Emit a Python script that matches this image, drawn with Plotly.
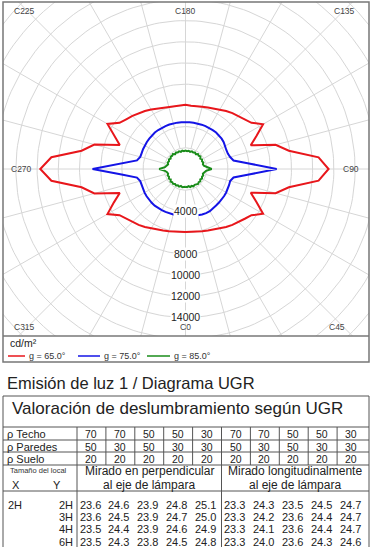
import numpy as np
import plotly.graph_objects as go

# ---------------- data ----------------
C_ANGLES = list(range(0, 360, 5))

# luminance (cd/m2) at gamma = 65, 75, 85 deg, C = 0..355 step 5
L_G65 = [5950, 5960, 6000, 6080, 6180, 6300, 6480, 6680, 6880, 7080, 7300, 7600, 8450, 7400, 6550, 8800, 9900, 12600,
         13500, 12600, 9900, 8800, 6550, 7400, 8450, 7600, 7300, 7080, 6880, 6680, 6480, 6300, 6180, 6080, 6000, 5980,
         6050, 6000, 6020, 6080, 6180, 6300, 6480, 6680, 6880, 7080, 7300, 7600, 8500, 7450, 6600, 8900, 9950, 12700,
         13700, 12700, 9950, 8900, 6600, 7450, 8500, 7600, 7300, 7080, 6880, 6680, 6480, 6300, 6180, 6080, 6000, 5960]
L_G75 = [4430, 4440, 4470, 4520, 4570, 4600, 4590, 4540, 4490, 4470, 4460, 4450, 4430, 4400, 4380, 4360, 4600, 6000,
         8600, 6000, 4600, 4360, 4250, 4250, 4330, 4400, 4450, 4480, 4490, 4480, 4470, 4460, 4450, 4440, 4430, 4430,
         4430, 4430, 4440, 4450, 4460, 4470, 4480, 4490, 4500, 4480, 4460, 4450, 4430, 4420, 4400, 4420, 4650, 6050,
         8770, 6050, 4650, 4420, 4420, 4440, 4460, 4480, 4500, 4510, 4520, 4500, 4480, 4470, 4460, 4450, 4440, 4430]
L_G85 = [1670, 1720, 1650, 1760, 1700, 1800, 1720, 1780, 1850, 1760, 1820, 1700, 1800, 1720, 1780, 1700, 1780, 1950,
         2470, 1950, 1760, 1700, 1790, 1720, 1800, 1700, 1840, 1760, 1830, 1700, 1790, 1720, 1770, 1680, 1750, 1690,
         1730, 1690, 1760, 1680, 1780, 1720, 1800, 1700, 1850, 1770, 1820, 1710, 1800, 1720, 1790, 1700, 1780, 1950,
         2480, 1950, 1770, 1700, 1790, 1720, 1810, 1700, 1840, 1760, 1830, 1720, 1790, 1700, 1770, 1660, 1740, 1680]
SERIES_NAMES = ["g = 65.0°", "g = 75.0°", "g = 85.0°"]
SERIES_COLORS = ["#e8161b", "#1414e6", "#1a8c1a"]

RADIAL_TICK_LABELS = [4000, 8000, 10000, 12000, 14000]
GRID_STEP = 2000
C_LABELS = ["C225", "C180", "C135", "C270", "C90", "C315", "C0", "C45"]

# UGR table
ROW_LABELS = ["ρ Techo", "ρ Paredes", "ρ Suelo"]
RHO_CEILING = [70, 70, 50, 50, 30, 70, 70, 50, 50, 30]
RHO_WALLS = [50, 30, 50, 30, 30, 50, 30, 50, 30, 30]
RHO_FLOOR = [20, 20, 20, 20, 20, 20, 20, 20, 20, 20]
ROOM_X = ["2H", "", "", ""]
ROOM_Y = ["2H", "3H", "4H", "6H"]
UGR_PERP = [[23.6, 24.6, 23.9, 24.8, 25.1],
            [23.6, 24.5, 23.9, 24.7, 25.0],
            [23.5, 24.4, 23.9, 24.6, 24.9],
            [23.5, 24.3, 23.8, 24.5, 24.8]]
UGR_LONG = [[23.3, 24.3, 23.5, 24.5, 24.7],
            [23.3, 24.2, 23.6, 24.4, 24.7],
            [23.3, 24.1, 23.6, 24.4, 24.7],
            [23.3, 24.0, 23.6, 24.3, 24.6]]

# ---------------- layout helpers ----------------
W, H = 372, 547
FONT = "Arial, Liberation Sans, sans-serif"


def px(x):
    return x / W


def py(y):
    return 1 - y / H


CX, CY = 185.5, 169.0          # pixel position of polar centre
S = 21.2 / GRID_STEP           # px per cd/m2
BX0, BX1, BY0, BY1 = 3, 369, 2, 336

fig = go.Figure()


def polar_xy(c_deg, r):
    t = np.radians(np.asarray(c_deg, dtype=float))
    r = np.asarray(r, dtype=float)
    return r * np.sin(t), -r * np.cos(t)


# grid circles
gx, gy = [], []
th = np.arange(0, 361, 2)
for r in range(GRID_STEP, 13 * GRID_STEP + 1, GRID_STEP):
    x, y = polar_xy(th, [r] * len(th))
    gx += list(x) + [None]
    gy += list(y) + [None]
# spokes
for a in range(0, 360, 15):
    x, y = polar_xy([a, a], [GRID_STEP, 30000])
    gx += list(x) + [None]
    gy += list(y) + [None]
fig.add_trace(go.Scatter(x=gx, y=gy, mode="lines", line=dict(color="#d6d6d6", width=1),
                         hoverinfo="skip", showlegend=False))

for vals, col in zip([L_G65, L_G75, L_G85], SERIES_COLORS):
    x, y = polar_xy(C_ANGLES + [C_ANGLES[0]], vals + [vals[0]])
    fig.add_trace(go.Scatter(x=x, y=y, mode="lines", line=dict(color=col, width=2),
                             hoverinfo="skip", showlegend=False))

ann = []
for v in RADIAL_TICK_LABELS:
    ann.append(dict(x=0, y=-v, xref="x", yref="y", text=str(v), showarrow=False,
                    font=dict(family=FONT, size=10.5, color="#222"), bgcolor="white",
                    borderpad=0, xanchor="center", yanchor="middle"))

c_pos = {"C225": (12, 11, "left"), "C180": (185.5, 11, "center"), "C135": (357, 11, "right"),
         "C270": (9, 169, "left"), "C90": (361, 169, "right"),
         "C315": (12, 327, "left"), "C0": (185.5, 327, "center"), "C45": (347, 327, "right")}
for lab in C_LABELS:
    x, y, anc = c_pos[lab]
    ann.append(dict(x=px(x), y=py(y), xref="paper", yref="paper", text=lab, showarrow=False,
                    font=dict(family=FONT, size=8.5, color="#444"), xanchor=anc, yanchor="middle"))

shapes = []
# chart frame
shapes.append(dict(type="rect", xref="paper", yref="paper", x0=px(3), x1=px(369), y0=py(362), y1=py(2),
                   line=dict(color="#777", width=1.5)))
shapes.append(dict(type="line", xref="paper", yref="paper", x0=px(3), x1=px(369), y0=py(336), y1=py(336),
                   line=dict(color="#777", width=1.5)))

# legend
ann.append(dict(x=px(8), y=py(343), xref="paper", yref="paper", text="cd/m²", showarrow=False,
                font=dict(family=FONT, size=10.5, color="#222"), xanchor="left", yanchor="middle"))
leg_x = [(8, 25, 27), (78, 100, 102), (147, 170, 172)]
for (lx0, lx1, tx), name, col in zip(leg_x, SERIES_NAMES, SERIES_COLORS):
    shapes.append(dict(type="line", xref="paper", yref="paper", x0=px(lx0), x1=px(lx1), y0=py(356), y1=py(356),
                       line=dict(color=col, width=1.5)))
    ann.append(dict(x=px(tx), y=py(356), xref="paper", yref="paper", text=name, showarrow=False,
                    font=dict(family=FONT, size=9, color="#333"), xanchor="left", yanchor="middle"))

# ---------------- UGR table ----------------
ann.append(dict(x=px(5), y=py(383), xref="paper", yref="paper", text="Emisión de luz 1 / Diagrama UGR",
                showarrow=False, font=dict(family=FONT, size=16.5, color="#222"), xanchor="left", yanchor="middle"))
TY0, TBOT = 396, 600
LINE = dict(color="#555", width=1)
shapes.append(dict(type="rect", xref="paper", yref="paper", x0=px(3), x1=px(369), y0=py(TBOT), y1=py(TY0),
                   line=LINE))
ann.append(dict(x=px(10), y=py(408), xref="paper", yref="paper",
                text="Valoración de deslumbramiento según UGR", showarrow=False,
                font=dict(family=FONT, size=17, color="#222"), xanchor="left", yanchor="middle"))
for yy in [427, 440, 452, 465, 491]:
    shapes.append(dict(type="line", xref="paper", yref="paper", x0=px(3), x1=px(369), y0=py(yy), y1=py(yy),
                       line=LINE))
COL0, CW = 77, 28.9
edges = [COL0 + i * CW for i in range(10)]
for i, e in enumerate(edges):
    if i in (0, 5):
        shapes.append(dict(type="line", xref="paper", yref="paper", x0=px(e), x1=px(e), y0=py(427), y1=py(TBOT),
                           line=LINE))
    else:
        shapes.append(dict(type="line", xref="paper", yref="paper", x0=px(e), x1=px(e), y0=py(427), y1=py(465),
                           line=LINE))

row_y = [434, 446.5, 458.5]
for lab, vals, yy in zip(ROW_LABELS, [RHO_CEILING, RHO_WALLS, RHO_FLOOR], row_y):
    ann.append(dict(x=px(5), y=py(yy), xref="paper", yref="paper", text=lab, showarrow=False,
                    font=dict(family=FONT, size=11, color="#222"), xanchor="left", yanchor="middle"))
    for i, v in enumerate(vals):
        ann.append(dict(x=px(edges[i] + 14), y=py(yy), xref="paper", yref="paper", text=str(v), showarrow=False,
                        font=dict(family=FONT, size=10.5, color="#222"), xanchor="center", yanchor="middle"))

ann.append(dict(x=px(38), y=py(470), xref="paper", yref="paper", text="Tamaño del local", showarrow=False,
                font=dict(family=FONT, size=7.5, color="#333"), xanchor="center", yanchor="middle"))
ann.append(dict(x=px(16), y=py(484.5), xref="paper", yref="paper", text="X", showarrow=False,
                font=dict(family=FONT, size=11, color="#222"), xanchor="center", yanchor="middle"))
ann.append(dict(x=px(57), y=py(484.5), xref="paper", yref="paper", text="Y", showarrow=False,
                font=dict(family=FONT, size=11, color="#222"), xanchor="center", yanchor="middle"))
for cxm, t1 in [((edges[0] + edges[5]) / 2, "Mirado en perpendicular"),
                ((edges[5] + 369) / 2, "Mirado longitudinalmente")]:
    ann.append(dict(x=px(cxm), y=py(471), xref="paper", yref="paper", text=t1, showarrow=False,
                    font=dict(family=FONT, size=12, color="#222"), xanchor="center", yanchor="middle"))
    ann.append(dict(x=px(cxm), y=py(484.5), xref="paper", yref="paper", text="al eje de lámpara", showarrow=False,
                    font=dict(family=FONT, size=12, color="#222"), xanchor="center", yanchor="middle"))

data_y = [504.5, 517, 529, 541.5]
for k in range(4):
    yy = data_y[k]
    ann.append(dict(x=px(6), y=py(yy), xref="paper", yref="paper", text=ROOM_X[k], showarrow=False,
                    font=dict(family=FONT, size=11, color="#222"), xanchor="left", yanchor="middle"))
    ann.append(dict(x=px(75), y=py(yy), xref="paper", yref="paper", text=ROOM_Y[k], showarrow=False,
                    font=dict(family=FONT, size=11, color="#222"), xanchor="right", yanchor="middle"))
    for i, v in enumerate(UGR_PERP[k] + UGR_LONG[k]):
        ann.append(dict(x=px(edges[i] + 13), y=py(yy), xref="paper", yref="paper", text=f"{v:.1f}",
                        showarrow=False, font=dict(family=FONT, size=11, color="#222"),
                        xanchor="center", yanchor="middle"))

fig.update_layout(
    width=W, height=H, margin=dict(l=0, r=0, t=0, b=0),
    paper_bgcolor="white", plot_bgcolor="white",
    xaxis=dict(domain=[px(BX0), px(BX1)], range=[(BX0 - CX) / S, (BX1 - CX) / S], visible=False,
               fixedrange=True),
    yaxis=dict(domain=[py(BY1), py(BY0)], range=[-(BY1 - CY) / S, (CY - BY0) / S], visible=False,
               fixedrange=True),
    annotations=ann, shapes=shapes, showlegend=False,
)
fig.write_html("out.html")
